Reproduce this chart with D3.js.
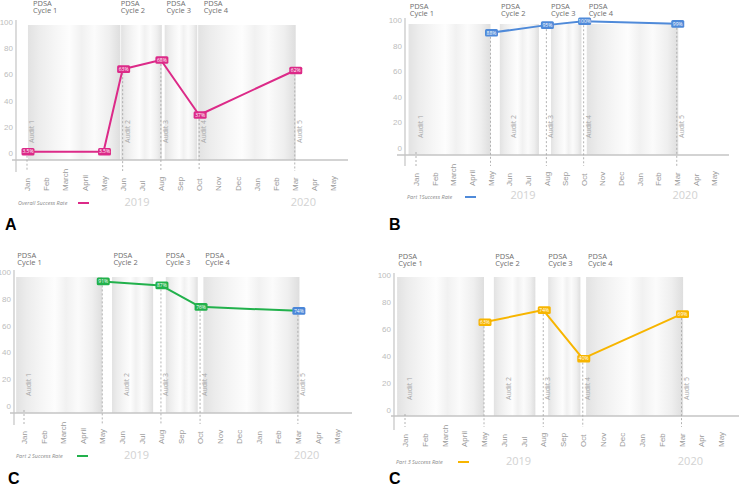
<!DOCTYPE html>
<html><head><meta charset="utf-8">
<script src="https://cdn.jsdelivr.net/npm/d3@7"></script>
<style>
html,body{margin:0;padding:0;background:#fff;}
svg{display:block;font-family:"Open Sans","Liberation Sans",Arial,sans-serif;}
</style></head>
<body><svg id="chart" width="739" height="485"></svg>
<script>
// ---------- data ----------
const months = ["Jan","Feb","March","April","May","Jun","Jul","Aug","Sep","Oct","Nov","Dec","Jan","Feb","Mar","Apr","May"];
const yearLabels = ["2019","2020"];
const yearMonthPos = [5.75, 14.45];
const yTicks = [0,20,40,60,80,100];
const cycleLabels = ["Cycle 1","Cycle 2","Cycle 3","Cycle 4"];
const auditLabels = ["Audit 1","Audit 2","Audit 3","Audit 4","Audit 5"];
const auditMonths = [0,5,7,9,14];

const overallMonths = [0,4,5,7,9,14];
const overallValues = [1,1,64,71,29,63];
const overallLabels = ["3.5%","3.5%","63%","68%","37%","62%"];

const part1Months = [4,7,9,14];
const part1Values = [90,96,99,97];
const part1Labels = ["88%","95%","100%","99%"];

const part2Months = [4,7,9,14];
const part2Values = [93,90,74,71];
const part2Labels = ["91%","87%","76%","74%"];

const part3Months = [4,7,9,14];
const part3Values = [65,74,38,71];
const part3Labels = ["63%","74%","40%","69%"];

// cycle periods in month units
const cyclesA = [[0.05,4.88],[4.92,7.05],[7.2,8.9],[8.95,14.05]];
const cyclesBCD = [[-0.4,4.0],[4.5,6.6],[7.25,8.88],[9.17,14.08]];
const pdsaPosA = [0.31,4.9,7.3,9.24];
const pdsaPosBCD = [-0.34,4.57,7.25,9.27];
const dropMonthsA = [0,5,7,9,14];
const dropMonthsBCD = [0,4,7,9,14];

// ---------- layout ----------
const panels = [
  {letter:"A", name:"Overall Success Rate", color:"#dc2a88", mths:overallMonths, vals:overallValues, labs:overallLabels,
   cycles:cyclesA, pdsa:pdsaPosA, drops:dropMonthsA,
   janX:27, mayX:333, y0:153, y100:22, axisY:160, yAxisX:16, yAxisTop:20, yAxisBot:172, xAxisL:12, xAxisR:348,
   bandTop:25, pdsaY:6, legendX:18, legendY:205, legendLineX:78, yearY:206, letterX:5, letterY:230},
  {letter:"B", name:"Part 1Success Rate", color:"#4f8ad9", mths:part1Months, vals:part1Values, labs:part1Labels,
   cycles:cyclesBCD, pdsa:pdsaPosBCD, drops:dropMonthsBCD,
   janX:416, mayX:714, y0:148, y100:20, axisY:155, yAxisX:405, yAxisTop:18, yAxisBot:166, xAxisL:397, xAxisR:729,
   bandTop:24, pdsaY:9, legendX:407, legendY:199, legendLineX:465, yearY:199, letterX:389, letterY:230},
  {letter:"C", name:"Part 2 Success Rate", color:"#22b14c", mths:part2Months, vals:part2Values, labs:part2Labels,
   cycles:cyclesBCD, pdsa:pdsaPosBCD, drops:dropMonthsBCD, lastBox:"#4a86d8",
   janX:24, mayX:337, y0:406, y100:272, axisY:413, yAxisX:14, yAxisTop:270, yAxisBot:425, xAxisL:10, xAxisR:352,
   bandTop:277, pdsaY:258, legendX:16, legendY:458, legendLineX:77, yearY:459, letterX:8, letterY:484},
  {letter:"C", name:"Part 3 Success Rate", color:"#f7b500", mths:part3Months, vals:part3Values, labs:part3Labels,
   cycles:cyclesBCD, pdsa:pdsaPosBCD, drops:dropMonthsBCD,
   janX:405, mayX:721, y0:410, y100:275, axisY:416, yAxisX:394, yAxisTop:273, yAxisBot:430, xAxisL:391, xAxisR:739,
   bandTop:277, pdsaY:259, legendX:396, legendY:464, legendLineX:458, yearY:465, letterX:389, letterY:484}
];

const svg = d3.select("#chart");
const defs = svg.append("defs");
const grad = defs.append("linearGradient").attr("id","band").attr("x1","0").attr("x2","1").attr("y1","0").attr("y2","0");
[[0,"#e2e2e2"],[0.12,"#ececec"],[0.3,"#f6f6f6"],[0.45,"#fdfdfd"],[0.58,"#f1f1f1"],[0.72,"#fbfbfb"],[0.88,"#efefef"],[1,"#dedede"]]
  .forEach(s=>grad.append("stop").attr("offset",s[0]).attr("stop-color",s[1]));

panels.forEach(p=>{
  const g = svg.append("g");
  const x = d3.scaleLinear().domain([0,16]).range([p.janX,p.mayX]);
  const y = d3.scaleLinear().domain([0,100]).range([p.y0,p.y100]);

  // bands
  g.selectAll("rect.band").data(p.cycles).join("rect").attr("class","band")
    .attr("x",d=>x(d[0])).attr("width",d=>x(d[1])-x(d[0]))
    .attr("y",p.bandTop).attr("height",p.axisY-p.bandTop)
    .attr("fill","url(#band)");

  // PDSA labels (two lines)
  g.selectAll("text.pdsa").data(cycleLabels).join("text").attr("class","pdsa")
    .attr("x",(d,i)=>x(p.pdsa[i])).attr("y",p.pdsaY)
    .attr("font-size",7.5).attr("fill","#6e6e6e").text("PDSA");
  g.selectAll("text.cyc").data(cycleLabels).join("text").attr("class","cyc")
    .attr("x",(d,i)=>x(p.pdsa[i])).attr("y",p.pdsaY+7)
    .attr("font-size",7.5).attr("fill","#6e6e6e").text(d=>d);

  // y axis (ticks)
  const ya = d3.axisLeft(y).tickValues(yTicks).tickSize(0).tickPadding(3);
  const yg = g.append("g").attr("transform",`translate(${p.yAxisX},0)`).call(ya);
  yg.select(".domain").remove();
  yg.selectAll("text").attr("fill","#bdbdbd").attr("font-size",8).attr("font-family","inherit");

  // axis lines
  g.append("line").attr("x1",p.yAxisX).attr("x2",p.yAxisX).attr("y1",p.yAxisTop).attr("y2",p.yAxisBot)
    .attr("stroke","#c4c4c4").attr("stroke-width",1.2);
  g.append("line").attr("x1",p.xAxisL).attr("x2",p.xAxisR).attr("y1",p.axisY).attr("y2",p.axisY)
    .attr("stroke","#c4c4c4").attr("stroke-width",1.4);

  // month labels via axis
  const xa = d3.axisBottom(x).tickValues(d3.range(months.length)).tickFormat(i=>months[i]).tickSize(0);
  const xg = g.append("g").attr("transform",`translate(0,${p.axisY+31})`).call(xa);
  xg.select(".domain").remove();
  xg.selectAll("text").attr("transform","rotate(-90)").attr("text-anchor","start")
    .attr("x",0).attr("y",0).attr("dx",0).attr("dy","0.33em")
    .attr("fill","#9a9a9a").attr("font-size",8).attr("font-family","inherit");

  // audit dashed lines
  const valAt = m => { const k = p.mths.indexOf(m); return k>=0 ? p.vals[k] : 0; };
  g.selectAll("line.drop").data(p.drops).join("line").attr("class","drop")
    .attr("x1",d=>x(d)).attr("x2",d=>x(d))
    .attr("y1",d=>y(valAt(d))+4).attr("y2",p.axisY+11)
    .attr("stroke","#aaaaaa").attr("stroke-width",0.9).attr("stroke-dasharray","2,2");

  // audit labels
  g.selectAll("text.audit").data(auditLabels).join("text").attr("class","audit")
    .attr("transform",(d,i)=>`translate(${x(auditMonths[i])+7},${p.y0-10}) rotate(-90)`)
    .attr("font-size",7).attr("fill","#a8a8a8").text(d=>d);

  // line
  const pts = p.mths.map((m,i)=>[x(m),y(p.vals[i])]);
  g.append("path").attr("d",d3.line()(pts)).attr("fill","none")
    .attr("stroke",p.color).attr("stroke-width",2).attr("stroke-linejoin","round");

  // label boxes
  const bx = g.selectAll("g.box").data(pts).join("g").attr("class","box")
    .attr("transform",d=>`translate(${d[0]+1},${d[1]})`);
  bx.append("rect").attr("x",-6.5).attr("y",-3.8).attr("width",13).attr("height",7.6).attr("rx",1.5)
    .attr("fill",(d,i)=> (p.lastBox && i===pts.length-1) ? p.lastBox : p.color);
  bx.append("text").attr("text-anchor","middle").attr("dy","0.35em").attr("font-size",5)
    .attr("fill","#fff").text((d,i)=>p.labs[i]);

  // years
  g.selectAll("text.year").data(yearLabels).join("text").attr("class","year")
    .attr("x",(d,i)=>x(yearMonthPos[i])).attr("y",p.yearY).attr("text-anchor","middle")
    .attr("font-size",11).attr("fill","#d2d2d2").text(d=>d);

  // legend
  g.append("text").attr("x",p.legendX).attr("y",p.legendY).attr("font-size",5.5).attr("font-style","italic")
    .attr("fill","#8a8a8a").text(p.name);
  g.append("line").attr("x1",p.legendLineX).attr("x2",p.legendLineX+11).attr("y1",p.legendY-2).attr("y2",p.legendY-2)
    .attr("stroke",p.color).attr("stroke-width",2);

  // panel letter
  g.append("text").attr("x",p.letterX).attr("y",p.letterY).attr("font-size",16).attr("font-weight","bold")
    .attr("font-family","Liberation Sans, Arial, sans-serif").attr("fill","#000").text(p.letter);
});
</script></body></html>
